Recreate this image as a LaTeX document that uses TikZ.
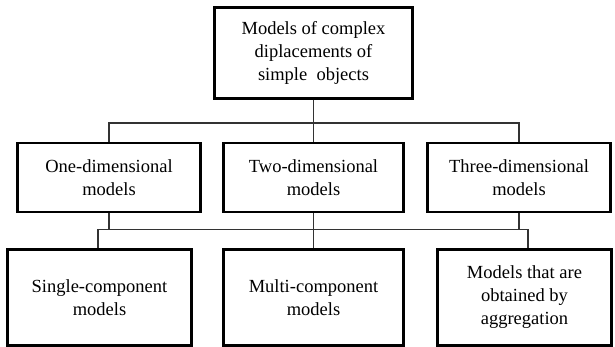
\documentclass[tikz,border=0pt]{standalone}
\usepackage{fontspec}
\setmainfont{Liberation Serif}
\begin{document}
\begin{tikzpicture}[x=1pt,y=1pt,
  box/.style={draw=black, line width=2.2pt, fill=white, align=center, inner sep=0pt,
    font=\fontsize{18.5}{23}\selectfont},
  conn/.style={draw=black!80, line width=1.1pt}]
\useasboundingbox (0,0) rectangle (615,-347);
\node[box, minimum width=198pt, minimum height=91pt] (top) at (313.5,-53)
  {Models of complex\\diplacements of\\simple\hspace{0.5em}objects};
\node[box, minimum width=183pt, minimum height=69pt] (box1) at (109,-177.5) {One-dimensional\\models};
\node[box, minimum width=180pt, minimum height=69pt] (box2) at (313.5,-177.5) {Two-dimensional\\models};
\node[box, minimum width=183pt, minimum height=69pt] (box3) at (519,-177.5) {Three-dimensional\\models};
\node[box, minimum width=184pt, minimum height=96pt] (box4) at (99.5,-297.5) {Single-component\\models};
\node[box, minimum width=180pt, minimum height=96pt] (box5) at (313.5,-297.5) {Multi-component\\models};
\node[box, minimum width=174pt, minimum height=96pt] (box6) at (524.5,-297.5) {Models that are\\obtained by\\aggregation};
\coordinate (b1) at (313.5,-123);
\coordinate (l2) at (313.5,-229.5);
\coordinate (l4) at (98,-229.5);
\coordinate (l6) at (528,-229.5);
\draw[conn] (top.south) -- (b1);
\draw[conn] (box1.north) |- (b1) -| (box3.north);
\draw[conn] (b1) -- (box2.north);
\draw[conn] (box1.south) |- (l2) -| (box3.south);
\draw[conn] (box2.south) -- (box5.north);
\draw[conn] (l4) -- (l6);
\draw[conn] (l4) -- (l4 |- box4.north);
\draw[conn] (l6) -- (l6 |- box6.north);
\end{tikzpicture}
\end{document}
